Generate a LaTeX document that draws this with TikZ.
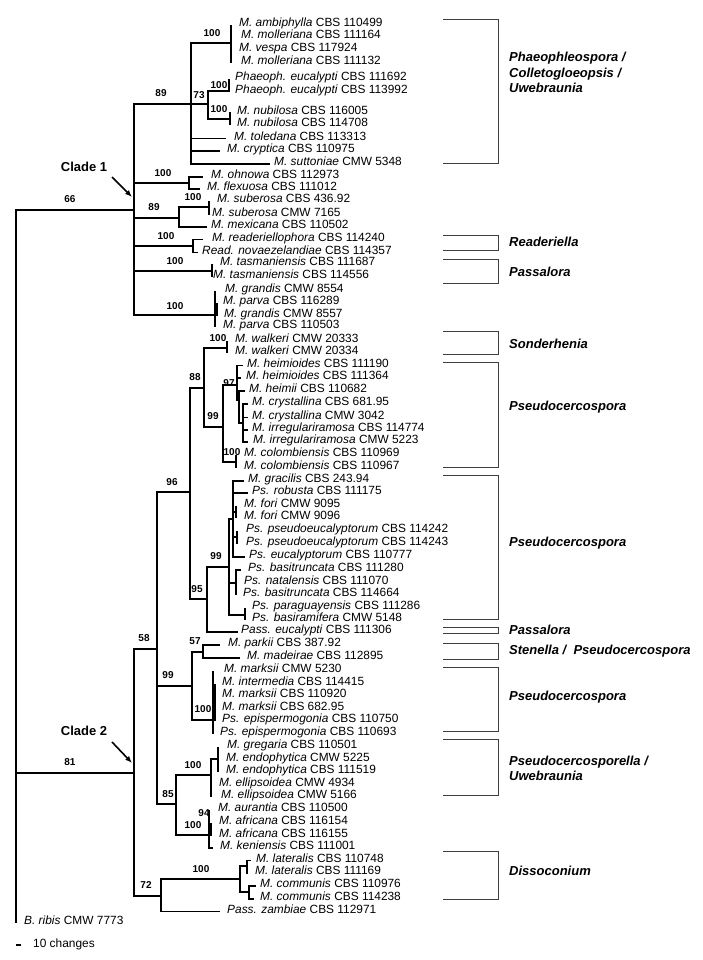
\documentclass[tikz,border=0pt]{standalone}
\usepackage{fontspec}
\setmainfont{Liberation Sans}
\usetikzlibrary{arrows.meta}
\newcommand{\lf}[6]{\coordinate (#1) at (#2,#3);\node[leaflab] (#1l) at (#4,#3) {\textit{#5} #6};}
\begin{document}
\begin{tikzpicture}[x=1pt,y=-1pt,
 br/.style={line width=1.1pt},
 leaflab/.style={anchor=base west,inner sep=0pt,yshift=-1.8pt,font=\fontsize{11.9}{12}\selectfont},
 supp/.style={font=\bfseries\fontsize{10}{10}\selectfont,inner sep=0pt},
 grp/.style={font=\bfseries\itshape\fontsize{13}{15.5}\selectfont,anchor=west,align=left,inner sep=0pt},
 brk/.style={line width=0.9pt,draw=black!75},
 cladelab/.style={font=\bfseries\fontsize{13}{13}\selectfont,inner sep=0pt},
 cladearrow/.style={line width=1.6pt,-{Latex[length=7pt,width=5.5pt]}}]
\useasboundingbox (0,0) rectangle (702,960);
% leaves
\lf{l1}{231}{25}{239}{M. ambiphylla}{CBS 110499}
\lf{l2}{231}{37}{241}{M. molleriana}{CBS 111164}
\lf{l3}{231}{50}{239}{M. vespa}{CBS 117924}
\lf{l4}{231}{63}{241}{M. molleriana}{CBS 111132}
\lf{l5}{229}{79}{235}{Phaeoph. eucalypti}{CBS 111692}
\lf{l6}{229}{92}{235}{Phaeoph. eucalypti}{CBS 113992}
\lf{l7}{230}{112.5}{237}{M. nubilosa}{CBS 116005}
\lf{l8}{230}{125}{237}{M. nubilosa}{CBS 114708}
\lf{l9}{226}{138.5}{234}{M. toledana}{CBS 113313}
\lf{l10}{220}{151}{227}{M. cryptica}{CBS 110975}
\lf{l11}{270}{164}{274}{M. suttoniae}{CMW 5348}
\lf{l12}{203}{177}{211}{M. ohnowa}{CBS 112973}
\lf{l13}{200}{189}{207}{M. flexuosa}{CBS 111012}
\lf{l14}{209}{201}{217}{M. suberosa}{CBS 436.92}
\lf{l15}{209}{214.5}{212}{M. suberosa}{CMW 7165}
\lf{l16}{207}{227}{211}{M. mexicana}{CBS 110502}
\lf{l17}{203}{239.5}{212}{M. readeriellophora}{CBS 114240}
\lf{l18}{198}{252.5}{202}{Read. novaezelandiae}{CBS 114357}
\lf{l19}{212}{264}{220}{M. tasmaniensis}{CBS 111687}
\lf{l20}{212}{277}{213}{M. tasmaniensis}{CBS 114556}
\lf{l21}{215}{291}{225}{M. grandis}{CMW 8554}
\lf{l22}{217}{303}{223}{M. parva}{CBS 116289}
\lf{l23}{217}{315.5}{224}{M. grandis}{CMW 8557}
\lf{l24}{215}{327}{223}{M. parva}{CBS 110503}
\lf{l25}{227}{340.5}{235}{M. walkeri}{CMW 20333}
\lf{l26}{227}{353}{235}{M. walkeri}{CMW 20334}
\lf{l27}{243}{365.5}{247}{M. heimioides}{CBS 111190}
\lf{l28}{241}{378}{246}{M. heimioides}{CBS 111364}
\lf{l29}{245}{391}{249}{M. heimii}{CBS 110682}
\lf{l30}{248}{404}{252}{M. crystallina}{CBS 681.95}
\lf{l31}{248}{417.5}{252}{M. crystallina}{CMW 3042}
\lf{l32}{248}{430}{252}{M. irregulariramosa}{CBS 114774}
\lf{l33}{248}{442}{253}{M. irregulariramosa}{CMW 5223}
\lf{l34}{236}{455}{244}{M. colombiensis}{CBS 110969}
\lf{l35}{236}{468}{244}{M. colombiensis}{CBS 110967}
\lf{l36}{244}{481}{248}{M. gracilis}{CBS 243.94}
\lf{l37}{248}{493}{252}{Ps. robusta}{CBS 111175}
\lf{l38}{236}{505.5}{244}{M. fori}{CMW 9095}
\lf{l39}{236}{518}{244}{M. fori}{CMW 9096}
\lf{l40}{237}{531}{246}{Ps. pseudoeucalyptorum}{CBS 114242}
\lf{l41}{237}{544}{246}{Ps. pseudoeucalyptorum}{CBS 114243}
\lf{l42}{245}{557}{249}{Ps. eucalyptorum}{CBS 110777}
\lf{l43}{241}{570}{248}{Ps. basitruncata}{CBS 111280}
\lf{l44}{236}{582.5}{244}{Ps. natalensis}{CBS 111070}
\lf{l45}{236}{595}{243}{Ps. basitruncata}{CBS 114664}
\lf{l46}{245}{608}{252}{Ps. paraguayensis}{CBS 111286}
\lf{l47}{245}{620}{252}{Ps. basiramifera}{CMW 5148}
\lf{l48}{238}{632}{241}{Pass. eucalypti}{CBS 111306}
\lf{l49}{220}{645}{228}{M. parkii}{CBS 387.92}
\lf{l50}{240}{658}{247}{M. madeirae}{CBS 112895}
\lf{l51}{213}{671}{224}{M. marksii}{CMW 5230}
\lf{l52}{215}{683.5}{222}{M. intermedia}{CBS 114415}
\lf{l53}{215}{696}{222}{M. marksii}{CBS 110920}
\lf{l54}{215}{708.5}{222}{M. marksii}{CBS 682.95}
\lf{l55}{215}{721}{222}{Ps. epispermogonia}{CBS 110750}
\lf{l56}{213}{733.5}{220}{Ps. epispermogonia}{CBS 110693}
\lf{l57}{218}{747}{227}{M. gregaria}{CBS 110501}
\lf{l58}{218}{759.5}{226}{M. endophytica}{CMW 5225}
\lf{l59}{218}{772}{226}{M. endophytica}{CBS 111519}
\lf{l60}{211}{784.5}{219}{M. ellipsoidea}{CMW 4934}
\lf{l61}{211}{797}{221}{M. ellipsoidea}{CMW 5166}
\lf{l62}{209}{809.5}{218}{M. aurantia}{CBS 110500}
\lf{l63}{211}{823}{219}{M. africana}{CBS 116154}
\lf{l64}{211}{835.5}{219}{M. africana}{CBS 116155}
\lf{l65}{213}{848}{220}{M. keniensis}{CBS 111001}
\lf{l66}{251}{860.5}{256}{M. lateralis}{CBS 110748}
\lf{l67}{248}{873}{255}{M. lateralis}{CBS 111169}
\lf{l68}{256}{886}{260}{M. communis}{CBS 110976}
\lf{l69}{254}{899}{260}{M. communis}{CBS 114238}
\lf{l70}{220}{911.5}{227}{Pass. zambiae}{CBS 112971}
\lf{l71}{16}{923}{24}{B. ribis}{CMW 7773}
% internal nodes
\coordinate (R) at (16,566);
\coordinate (C1) at (134,210);
\coordinate (n89a) at (191,104);
\coordinate (n100a) at (231,43);
\coordinate (n73) at (208,104);
\coordinate (n100b) at (229,91);
\coordinate (n100c) at (230,119);
\coordinate (n100d) at (189,183);
\coordinate (n89b) at (179,218);
\coordinate (n100e) at (209,207);
\coordinate (n100f) at (193,246);
\coordinate (n100g) at (212,271);
\coordinate (n100h) at (215,315);
\coordinate (g2) at (217,309);
\coordinate (C2) at (134,773);
\coordinate (n58) at (157,649);
\coordinate (n96) at (190,492);
\coordinate (n88) at (204,388);
\coordinate (n100w) at (227,348);
\coordinate (n99a) at (223,427);
\coordinate (n97) at (237,385);
\coordinate (nA) at (239,400);
\coordinate (nB) at (243,423);
\coordinate (n100col) at (236,462);
\coordinate (n95) at (207,599);
\coordinate (n99b) at (229,567);
\coordinate (nC) at (233,519);
\coordinate (nF) at (236,512);
\coordinate (nP) at (237,537);
\coordinate (nBT) at (236,583);
\coordinate (nPG) at (245,615);
\coordinate (n99c) at (192,686);
\coordinate (n57) at (203,652);
\coordinate (n100m) at (213,720);
\coordinate (nM2) at (215,702);
\coordinate (n85) at (176,804);
\coordinate (n100gr) at (211,775);
\coordinate (nD) at (218,759);
\coordinate (n100af) at (209,835);
\coordinate (n94) at (211,829);
\coordinate (n72) at (161,896);
\coordinate (n100l) at (240,879);
\coordinate (nL) at (247,866);
\coordinate (nCm) at (249,892);
% branches
\foreach \p/\c in {R/C1,R/C2,R/l71,
 C1/n89a,C1/n100d,C1/n89b,C1/n100f,C1/n100g,C1/n100h,
 n89a/n100a,n89a/n73,n89a/l9,n89a/l10,n89a/l11,
 n100a/l1,n100a/l2,n100a/l3,n100a/l4,
 n73/n100b,n73/n100c,n100b/l5,n100b/l6,n100c/l7,n100c/l8,
 n100d/l12,n100d/l13,n89b/n100e,n89b/l16,n100e/l14,n100e/l15,
 n100f/l17,n100f/l18,n100g/l19,n100g/l20,
 n100h/l21,n100h/g2,n100h/l24,g2/l22,g2/l23,
 C2/n58,C2/n72,n58/n96,n58/n99c,n58/n85,
 n96/n88,n96/n95,n88/n100w,n88/n99a,n100w/l25,n100w/l26,
 n99a/n97,n99a/n100col,n97/l27,n97/l28,n97/nA,nA/l29,nA/nB,
 nB/l30,nB/l31,nB/l32,nB/l33,n100col/l34,n100col/l35,
 n95/n99b,n95/l48,n99b/nC,n99b/nBT,n99b/nPG,
 nC/l36,nC/l37,nC/nF,nC/nP,nC/l42,nF/l38,nF/l39,nP/l40,nP/l41,
 nBT/l43,nBT/l44,nBT/l45,nPG/l46,nPG/l47,
 n99c/n57,n99c/n100m,n57/l49,n57/l50,
 n100m/l51,n100m/nM2,n100m/l56,nM2/l52,nM2/l53,nM2/l54,nM2/l55,
 n85/n100gr,n85/n100af,n100gr/nD,n100gr/l60,n100gr/l61,
 nD/l57,nD/l58,nD/l59,n100af/l62,n100af/n94,n100af/l65,n94/l63,n94/l64,
 n72/n100l,n72/l70,n100l/nL,n100l/nCm,nL/l66,nL/l67,nCm/l68,nCm/l69}
 \draw[br] (\p) |- (\c);
% support values
\node[supp] (s1) at (70,199) {66};
\node[supp] (s2) at (161,93) {89};
\node[supp] (s3) at (212,33) {100};
\node[supp] (s4) at (199,95) {73};
\node[supp] (s5) at (219,85) {100};
\node[supp] (s6) at (219,109) {100};
\node[supp] (s7) at (163,173) {100};
\node[supp] (s8) at (154,207) {89};
\node[supp] (s9) at (193,197) {100};
\node[supp] (s10) at (166,236) {100};
\node[supp] (s11) at (175,261) {100};
\node[supp] (s12) at (175,306) {100};
\node[supp] (s13) at (218,338) {100};
\node[supp] (s14) at (195,377) {88};
\node[supp] (s15) at (229,383) {97};
\node[supp] (s16) at (213,416) {99};
\node[supp] (s17) at (232,452) {100};
\node[supp] (s18) at (172,482) {96};
\node[supp] (s19) at (216,556) {99};
\node[supp] (s20) at (197,589) {95};
\node[supp] (s21) at (144,638) {58};
\node[supp] (s22) at (195,641) {57};
\node[supp] (s23) at (168,675) {99};
\node[supp] (s24) at (203,709) {100};
\node[supp] (s25) at (70,762) {81};
\node[supp] (s26) at (193,765) {100};
\node[supp] (s27) at (168,794) {85};
\node[supp] (s28) at (204,813) {94};
\node[supp] (s29) at (193,825) {100};
\node[supp] (s30) at (146,885) {72};
\node[supp] (s31) at (201,869) {100};
% clade labels
\node[cladelab] (cl1) at (84,167) {Clade 1};
\coordinate (a1) at (132,197);
\draw[cladearrow] (112,177) -- (a1);
\node[cladelab] (cl2) at (84,731) {Clade 2};
\coordinate (a2) at (132,763);
\draw[cladearrow] (112,742) -- (a2);
% scale bar
\draw[line width=1.1pt] (16,945) -- (21,945);
\node[anchor=west,inner sep=0pt,font=\fontsize{11.9}{12}\selectfont] (scale) at (33,944) {10 changes};
% brackets
\foreach \t/\b in {19/163,235/250,259/283,331/354,362/467,475/619,627/633,643/659,667/731,739/795,851/899}
 \draw[brk] (443,\t) -- (498,\t) -- (498,\b) -- (443,\b);
\node[grp] (g1) at (509,72.5) {Phaeophleospora /\\Colletogloeopsis /\\Uwebraunia};
\node[grp] (g2l) at (509,242) {Readeriella};
\node[grp] (g3) at (509,272) {Passalora};
\node[grp] (g4) at (509,344) {Sonderhenia};
\node[grp] (g5) at (509,407) {Pseudocercospora};
\node[grp] (g6) at (509,543) {Pseudocercospora};
\node[grp] (g7) at (509,630) {Passalora};
\node[grp] (g8) at (509,651) {Stenella /\ \ Pseudocercospora};
\node[grp] (g9) at (509,697) {Pseudocercospora};
\node[grp] (g10) at (509,768.5) {Pseudocercosporella /\\Uwebraunia};
\node[grp] (g11) at (509,871) {Dissoconium};
\end{tikzpicture}
\end{document}
